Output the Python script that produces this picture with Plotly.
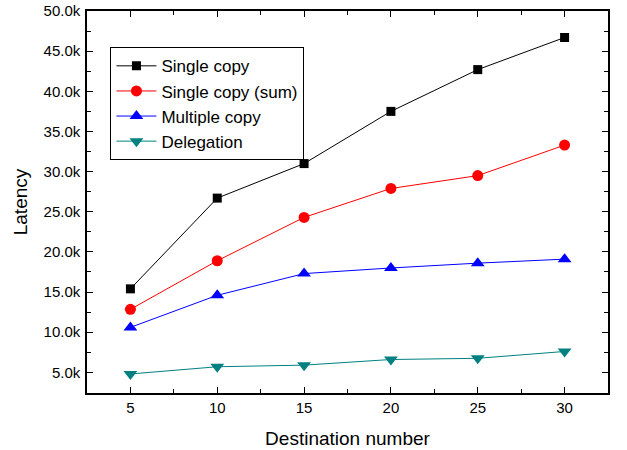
import plotly.graph_objects as go

x_vals = [5, 10, 15, 20, 25, 30]
single_copy = [15400, 26700, 31000, 37500, 42700, 46700]
single_copy_sum = [12850, 18900, 24300, 27900, 29500, 33300]
multiple_copy = [10600, 14600, 17300, 18000, 18600, 19100]
delegation = [4800, 5700, 5900, 6600, 6750, 7600]

y_tickvals = [5000, 10000, 15000, 20000, 25000, 30000, 35000, 40000, 45000, 50000]
y_ticktext = ["5.0k", "10.0k", "15.0k", "20.0k", "25.0k", "30.0k", "35.0k", "40.0k", "45.0k", "50.0k"]

series = [
    ("Single copy", single_copy, "black", "square", 9),
    ("Single copy (sum)", single_copy_sum, "red", "circle", 11),
    ("Multiple copy", multiple_copy, "blue", "triangle-up", 12),
    ("Delegation", delegation, "#008080", "triangle-down", 12),
]

FONT = "Liberation Sans, Arial"

fig = go.Figure()
for name, vals, color, sym, size in series:
    fig.add_trace(go.Scatter(
        x=x_vals, y=vals, name=name, mode="lines+markers",
        line=dict(color=color, width=1),
        marker=dict(color=color, symbol=sym, size=size, line=dict(width=0)),
    ))

axis_common = dict(
    showline=True, linecolor="black", linewidth=1.5, mirror="allticks",
    ticks="inside", ticklen=6, tickwidth=1.2, tickcolor="black",
    showgrid=False, zeroline=False, automargin=False,
    tickfont=dict(family=FONT, size=15, color="black"),
)

fig.update_xaxes(
    range=[2.5, 32.5], tickvals=x_vals,
    minor=dict(ticks="inside", ticklen=4, dtick=2.5, tick0=2.5, tickcolor="black", tickwidth=1),
    title=dict(text="Destination number", font=dict(family=FONT, size=19, color="black"), standoff=17),
    **axis_common,
)
fig.update_yaxes(
    range=[2430, 50000], tickvals=y_tickvals, ticktext=y_ticktext,
    minor=dict(ticks="inside", ticklen=4, dtick=2500, tick0=0, tickcolor="black", tickwidth=1),
    title=dict(text="Latency", font=dict(family=FONT, size=19, color="black"), standoff=11),
    ticklabelstandoff=2,
    **axis_common,
)

fig.update_layout(
    width=627, height=450,
    margin=dict(l=87, r=19, t=11, b=57),
    plot_bgcolor="white", paper_bgcolor="white",
    showlegend=True,
    legend=dict(
        x=0.045, y=0.905, xanchor="left", yanchor="top",
        bgcolor="white", bordercolor="black", borderwidth=1,
        font=dict(family=FONT, size=17, color="black"),
        tracegroupgap=0, itemwidth=40,
    ),
)

fig.write_html("out.html")
